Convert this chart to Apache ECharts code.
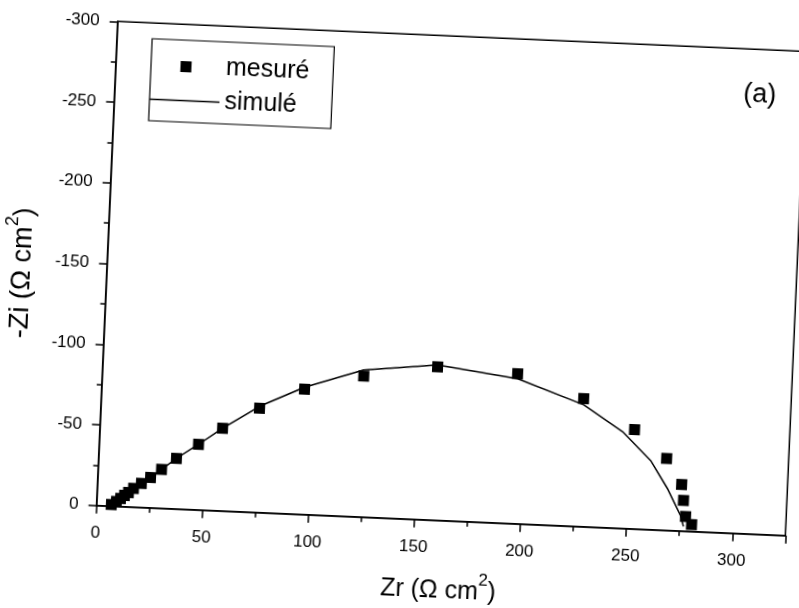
<!DOCTYPE html>
<html>
<head>
<meta charset="utf-8">
<script src="https://cdn.jsdelivr.net/npm/echarts@6/dist/echarts.min.js"></script>
<style>
  html, body { margin: 0; padding: 0; background: #fff; overflow: hidden; }
  #chart {
    width: 799px; height: 608px;
    transform-origin: 451.5px 278.5px;
    transform: rotate(2.5deg);
  }
</style>
</head>
<body>
<div id="chart"></div>
<script>
// Nyquist diagram: real part Zr vs imaginary part Zi (Ω cm²)
const measuredZr = [7, 9.3, 11.2, 13, 14.8, 17.1, 20.7, 24.9, 29.9, 36.7, 46.8, 57.8, 74.8, 95.6,
  123.2, 157.8, 195.6, 227.2, 251.8, 267.5, 275.1, 276.3, 277.6, 280.6];
const measuredZi = [-1, -3, -5, -7, -8.9, -11.6, -14.9, -18.8, -24.1, -31.3, -40.6, -51.2, -64.6, -77.6,
  -87.3, -95.0, -92.9, -79.3, -61.5, -44.5, -28.8, -19.0, -9.1, -4.3];

const simulatedZr = [6.5, 9.3, 11.2, 13, 14.8, 17.1, 20.7, 24.9, 29.9, 36.7, 46.8, 57.8, 74.8, 95.6,
  123, 157.8, 195.7, 227.3, 246.2, 260, 268.5, 275.2, 276.8];
const simulatedZi = [-0.3, -3, -5, -7, -8.9, -11.6, -14.9, -18.8, -24.1, -31.3, -40.6, -51.2, -65.8, -78.8,
  -91, -96.2, -89.8, -75.5, -59.9, -42.8, -25.9, -9.6, -2.9];

const seriesNames = ['mesuré', 'simulé'];
const panelLabel = '(a)';

const measured = measuredZr.map((x, i) => [x, measuredZi[i]]);
const simulated = simulatedZr.map((x, i) => [x, simulatedZi[i]]);

const FONT = 'Liberation Sans, Arial, sans-serif';

// Legend icons: a 70×11 box holding either a centred square or a thin horizontal rule.
// The two corner specks pin the bounding box so the drawn part keeps its size.
const BOX = 'M0,0h0.01v0.01h-0.01z M69.99,10.99h0.01v0.01h-0.01z ';
const squareIcon = 'path://' + BOX + 'M29.5,0h11v11h-11z';
const ruleIcon = 'path://' + BOX + 'M0,4.8h70v1.4h-70z';

const chart = echarts.init(document.getElementById('chart'), null, { renderer: 'canvas' });

chart.setOption({
  backgroundColor: '#fff',
  animation: false,
  textStyle: { fontFamily: FONT, color: '#000' },
  grid: {
    left: 106.7, top: 36.3, width: 689.6, height: 484.5,
    outerBoundsMode: 'none',
    containLabel: false,
    show: true, borderColor: '#000', borderWidth: 1.5, backgroundColor: 'transparent'
  },
  legend: {
    data: [
      { name: seriesNames[0], icon: squareIcon },
      { name: seriesNames[1], icon: ruleIcon }
    ],
    orient: 'vertical',
    left: 142, top: 52,
    padding: [14, 24, 9, 0],
    itemGap: 9,
    itemWidth: 70, itemHeight: 11,
    borderColor: '#000', borderWidth: 1.2,
    itemStyle: { color: '#000', opacity: 1 },
    textStyle: { fontSize: 25, color: '#000', fontFamily: FONT }
  },
  xAxis: {
    type: 'value', min: 0, max: 325, interval: 50,
    name: 'Zr (Ω cm{sup|2})',
    nameLocation: 'middle', nameGap: 50,
    nameTextStyle: {
      fontSize: 25, lineHeight: 40, color: '#000', fontFamily: FONT,
      rich: { sup: { fontSize: 17, lineHeight: 17, verticalAlign: 'top', color: '#000', fontFamily: FONT } }
    },
    axisLine: { onZero: false, lineStyle: { color: '#000', width: 1.5 } },
    axisTick: { inside: false, length: 8, lineStyle: { color: '#000', width: 1.5 } },
    minorTick: { show: true, splitNumber: 2, length: 5, lineStyle: { color: '#000', width: 1.5 } },
    axisLabel: { fontSize: 17, color: '#000', margin: 19, fontFamily: FONT, showMaxLabel: false },
    splitLine: { show: false }
  },
  yAxis: {
    type: 'value', min: -300, max: 0, interval: 50, inverse: true,
    name: '-Zi (Ω cm{sup|2})',
    nameLocation: 'middle', nameGap: 54, nameRotate: 90,
    nameTextStyle: {
      fontSize: 27, lineHeight: 42, color: '#000', fontFamily: FONT, padding: [0, 26, 0, 0],
      rich: { sup: { fontSize: 18, lineHeight: 18, verticalAlign: 'top', color: '#000', fontFamily: FONT } }
    },
    axisLine: { onZero: false, lineStyle: { color: '#000', width: 1.5 } },
    axisTick: { inside: false, length: 8, lineStyle: { color: '#000', width: 1.5 } },
    minorTick: { show: true, splitNumber: 2, length: 5, lineStyle: { color: '#000', width: 1.5 } },
    axisLabel: { fontSize: 17, color: '#000', margin: 18, fontFamily: FONT },
    splitLine: { show: false }
  },
  graphic: [{
    type: 'text',
    left: 752 - 17, top: 83 - 15,
    style: { text: panelLabel, fontSize: 27, fill: '#000', fontFamily: FONT }
  }],
  series: [
    {
      name: seriesNames[0],
      type: 'scatter',
      data: measured,
      symbol: 'rect',
      symbolSize: 11,
      itemStyle: { color: '#000', opacity: 1 },
      z: 3
    },
    {
      name: seriesNames[1],
      type: 'line',
      data: simulated,
      symbol: 'none',
      showSymbol: false,
      lineStyle: { color: '#000', width: 1.5 },
      itemStyle: { color: '#000' },
      z: 2
    }
  ]
});
</script>
</body>
</html>
